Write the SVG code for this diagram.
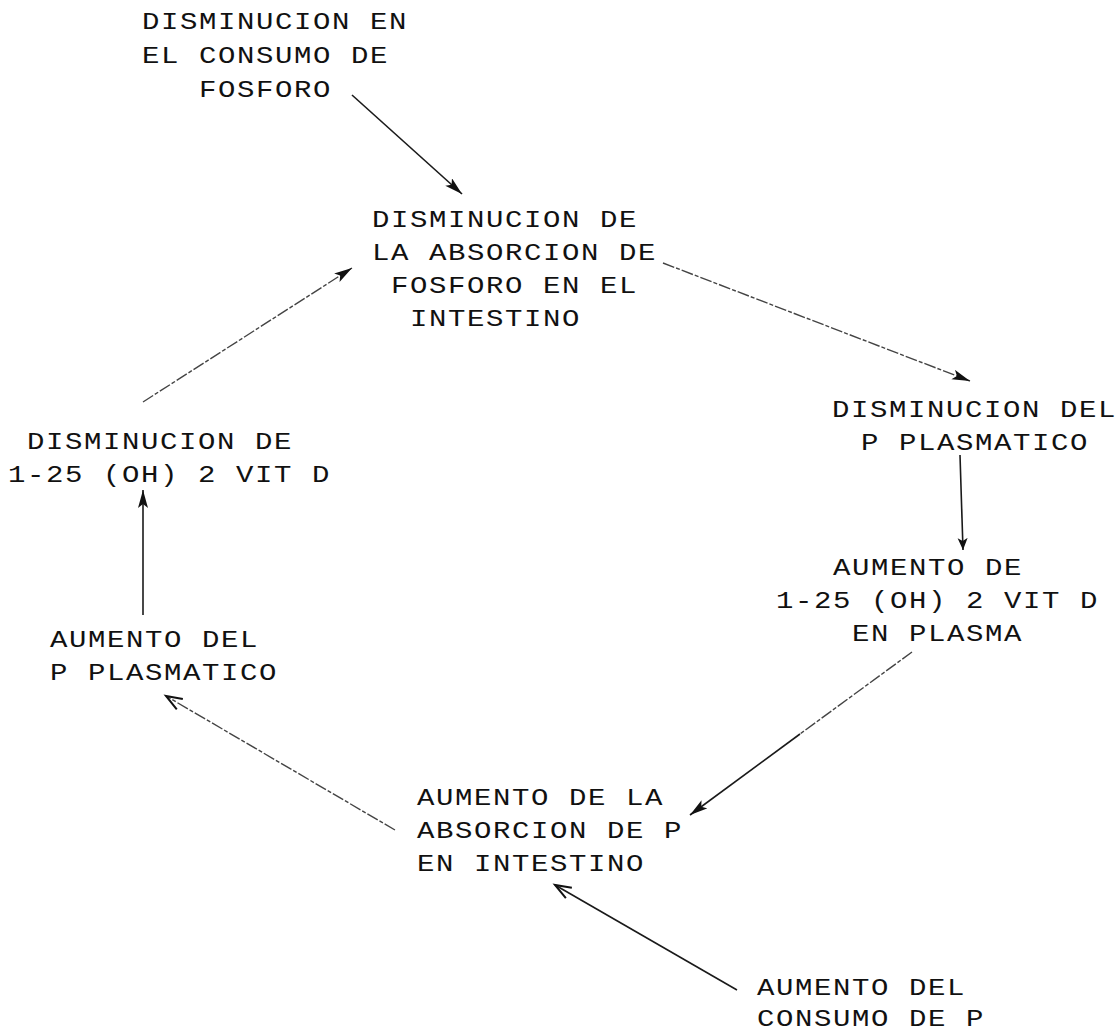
<svg xmlns="http://www.w3.org/2000/svg" width="1120" height="1032" viewBox="0 0 1120 1032">
  <style>
    text { font-family: "Liberation Mono", "DejaVu Sans Mono", monospace; font-size: 29px; letter-spacing: 1.6px; fill: #111; }
    .edge { fill: none; stroke: #1a1a1a; stroke-width: 1.6; }
    .broken { stroke-dasharray: 12 2 4 2; stroke: #444; stroke-width: 1.4; }
  </style>
  <defs>
    <marker id="head" markerUnits="userSpaceOnUse" markerWidth="20" markerHeight="12" refX="18" refY="5" orient="auto">
      <path d="M0,0 L18,5 L0,10 L4,5 z" fill="#111"/>
    </marker>
    <marker id="vee" markerUnits="userSpaceOnUse" markerWidth="20" markerHeight="16" refX="17" refY="7" orient="auto">
      <path d="M1,1 L17,7 L1,13" fill="none" stroke="#111" stroke-width="2"/>
    </marker>
    <marker id="small" markerUnits="userSpaceOnUse" markerWidth="14" markerHeight="12" refX="12" refY="5" orient="auto">
      <path d="M0,0 L12,5 L0,10 L3,5 z" fill="#111"/>
    </marker>
  </defs>

  <!-- connectors -->
  <g id="connectors">
    <line class="edge" x1="352" y1="95" x2="462" y2="194" marker-end="url(#head)"/>
    <line class="edge broken" x1="663" y1="263" x2="970" y2="381" marker-end="url(#head)"/>
    <line class="edge" x1="960" y1="455" x2="963" y2="550" marker-end="url(#small)"/>
    <line class="edge broken" x1="912" y1="652" x2="800" y2="734"/>
    <line class="edge" x1="800" y1="734" x2="690" y2="815" marker-end="url(#head)"/>
    <line class="edge broken" x1="395" y1="830" x2="166" y2="696" marker-end="url(#vee)"/>
    <line class="edge" x1="143" y1="615" x2="143" y2="490" marker-end="url(#head)"/>
    <line class="edge broken" x1="143" y1="402" x2="352" y2="268" marker-end="url(#head)"/>
    <line class="edge" x1="737" y1="990" x2="555" y2="885" marker-end="url(#vee)"/>
  </g>

  <!-- nodes: each block is squashed vertically to the wide typewriter look -->
  <g id="consumo-bajo" transform="translate(142,29) scale(1,0.8)">
    <text x="0" y="0">DISMINUCION EN</text>
    <text x="0" y="42.5">EL CONSUMO DE</text>
    <text x="57" y="85">FOSFORO</text>
  </g>
  <g id="absorcion-baja" transform="translate(372,227) scale(1,0.8)">
    <text x="0" y="0">DISMINUCION DE</text>
    <text x="0" y="41.25">LA ABSORCION DE</text>
    <text x="19" y="82.5">FOSFORO EN EL</text>
    <text x="38" y="123.75">INTESTINO</text>
  </g>
  <g id="p-plasma-bajo" transform="translate(832,417) scale(1,0.8)">
    <text x="0" y="0">DISMINUCION DEL</text>
    <text x="29" y="41.25">P PLASMATICO</text>
  </g>
  <g id="vitd-alta" transform="translate(776,575) scale(1,0.8)">
    <text x="57" y="0">AUMENTO DE</text>
    <text x="0" y="41.25">1-25 (OH) 2 VIT D</text>
    <text x="76" y="82.5">EN PLASMA</text>
  </g>
  <g id="vitd-baja" transform="translate(8,449) scale(1,0.8)">
    <text x="19" y="0">DISMINUCION DE</text>
    <text x="0" y="41.25">1-25 (OH) 2 VIT D</text>
  </g>
  <g id="p-plasma-alto" transform="translate(50,647) scale(1,0.8)">
    <text x="0" y="0">AUMENTO DEL</text>
    <text x="0" y="41.25">P PLASMATICO</text>
  </g>
  <g id="absorcion-alta" transform="translate(417,805) scale(1,0.8)">
    <text x="0" y="0">AUMENTO DE LA</text>
    <text x="0" y="41.25">ABSORCION DE P</text>
    <text x="0" y="82.5">EN INTESTINO</text>
  </g>
  <g id="consumo-alto" transform="translate(757,995) scale(1,0.8)">
    <text x="0" y="0">AUMENTO DEL</text>
    <text x="0" y="38.75">CONSUMO DE P</text>
  </g>
</svg>
